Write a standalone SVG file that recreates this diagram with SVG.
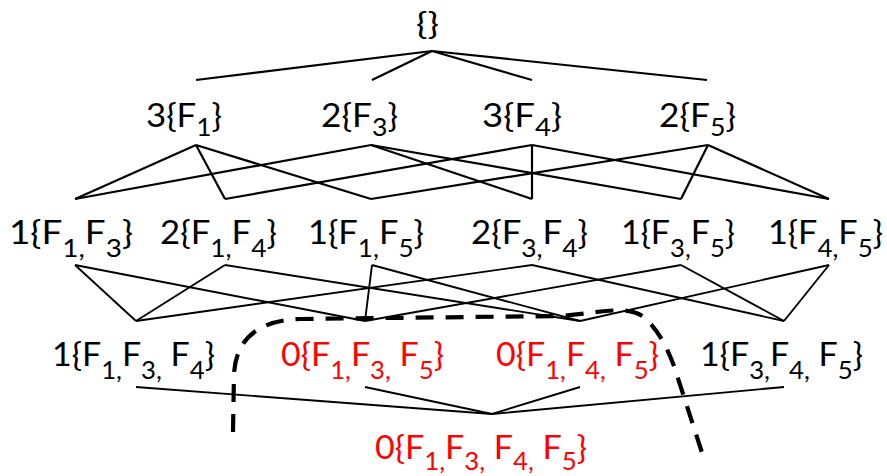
<svg xmlns="http://www.w3.org/2000/svg" width="887" height="476" viewBox="0 0 887 476">
<style>
text{font-family:Lato,"Liberation Sans",sans-serif;font-size:33px;fill:#000}
.r{fill:#ff0000}
.s{font-size:25px}
.c line{stroke:#000;stroke-width:2.2}
.c2 line{stroke:#000;stroke-width:1.9}
.dash{fill:none;stroke:#000;stroke-width:4.2;stroke-dasharray:18 12}
</style>
<rect width="887" height="476" fill="#fff"/>
<g id="connectors">
<g class="c">
<line x1="432" y1="51" x2="196" y2="80"/>
<line x1="432" y1="51" x2="372" y2="80"/>
<line x1="432" y1="51" x2="532" y2="80"/>
<line x1="432" y1="51" x2="707" y2="80"/>
<line x1="196" y1="145" x2="75" y2="199"/>
<line x1="196" y1="145" x2="225" y2="199"/>
<line x1="196" y1="145" x2="371" y2="199"/>
<line x1="371" y1="145" x2="75" y2="199"/>
<line x1="371" y1="145" x2="532" y2="199"/>
<line x1="371" y1="145" x2="681" y2="199"/>
<line x1="532" y1="145" x2="225" y2="199"/>
<line x1="532" y1="145" x2="532" y2="199"/>
<line x1="532" y1="145" x2="829" y2="199"/>
<line x1="708" y1="145" x2="371" y2="199"/>
<line x1="708" y1="145" x2="681" y2="199"/>
<line x1="708" y1="145" x2="829" y2="199"/>
</g>
<g class="c2">
<line x1="75" y1="265" x2="136" y2="321"/>
<line x1="75" y1="265" x2="365" y2="321"/>
<line x1="225" y1="265" x2="136" y2="321"/>
<line x1="225" y1="265" x2="580" y2="321"/>
<line x1="372" y1="265" x2="365" y2="321"/>
<line x1="372" y1="265" x2="580" y2="321"/>
<line x1="532" y1="265" x2="136" y2="321"/>
<line x1="532" y1="265" x2="784" y2="321"/>
<line x1="681" y1="265" x2="365" y2="321"/>
<line x1="681" y1="265" x2="784" y2="321"/>
<line x1="829" y1="265" x2="580" y2="321"/>
<line x1="829" y1="265" x2="784" y2="321"/>
<line x1="136" y1="387" x2="492" y2="414"/>
<line x1="365" y1="387" x2="492" y2="414"/>
<line x1="580" y1="387" x2="492" y2="414"/>
<line x1="784" y1="387" x2="492" y2="414"/>
</g>
</g>
<path id="boundary" class="dash" d="M233,432 L234,374 C236,336 262,320 300,319 L560,316 C600,313 628,304 645,318 C660,332 668,350 674,366 L705,462"/>
<g id="n-empty"><text x="416" y="35" textLength="23" lengthAdjust="spacingAndGlyphs" style="font-size:31px">{}</text></g>
<g id="n-F1"><text x="146" y="127" textLength="76" lengthAdjust="spacingAndGlyphs">3{F<tspan class="s" dy="8.5">1</tspan><tspan dy="-8.5">}</tspan></text></g>
<g id="n-F3"><text x="321" y="127" textLength="77" lengthAdjust="spacingAndGlyphs">2{F<tspan class="s" dy="8.5">3</tspan><tspan dy="-8.5">}</tspan></text></g>
<g id="n-F4"><text x="482" y="127" textLength="80" lengthAdjust="spacingAndGlyphs">3{F<tspan class="s" dy="8.5">4</tspan><tspan dy="-8.5">}</tspan></text></g>
<g id="n-F5"><text x="659" y="127" textLength="77" lengthAdjust="spacingAndGlyphs">2{F<tspan class="s" dy="8.5">5</tspan><tspan dy="-8.5">}</tspan></text></g>
<g id="n-F1F3"><text x="9" y="244" textLength="124" lengthAdjust="spacingAndGlyphs">1{F<tspan class="s" dy="12.5">1,</tspan><tspan dy="-12.5">F</tspan><tspan class="s" dy="12.5">3</tspan><tspan dy="-12.5">}</tspan></text></g>
<g id="n-F1F4"><text x="160" y="244" textLength="117" lengthAdjust="spacingAndGlyphs">2{F<tspan class="s" dy="12.5">1,</tspan><tspan dy="-12.5">F</tspan><tspan class="s" dy="12.5">4</tspan><tspan dy="-12.5">}</tspan></text></g>
<g id="n-F1F5"><text x="308" y="244" textLength="116" lengthAdjust="spacingAndGlyphs">1{F<tspan class="s" dy="12.5">1,</tspan><tspan dy="-12.5">F</tspan><tspan class="s" dy="12.5">5</tspan><tspan dy="-12.5">}</tspan></text></g>
<g id="n-F3F4"><text x="471" y="244" textLength="117" lengthAdjust="spacingAndGlyphs">2{F<tspan class="s" dy="12.5">3,</tspan><tspan dy="-12.5">F</tspan><tspan class="s" dy="12.5">4</tspan><tspan dy="-12.5">}</tspan></text></g>
<g id="n-F3F5"><text x="621" y="244" textLength="114" lengthAdjust="spacingAndGlyphs">1{F<tspan class="s" dy="12.5">3,</tspan><tspan dy="-12.5">F</tspan><tspan class="s" dy="12.5">5</tspan><tspan dy="-12.5">}</tspan></text></g>
<g id="n-F4F5"><text x="768" y="244" textLength="115" lengthAdjust="spacingAndGlyphs">1{F<tspan class="s" dy="12.5">4,</tspan><tspan dy="-12.5">F</tspan><tspan class="s" dy="12.5">5</tspan><tspan dy="-12.5">}</tspan></text></g>
<g id="n-F1F3F4"><text x="52" y="366" textLength="163" lengthAdjust="spacingAndGlyphs">1{F<tspan class="s" dy="12.5">1,</tspan><tspan dy="-12.5">F</tspan><tspan class="s" dy="12.5">3,</tspan><tspan dy="-12.5"> F</tspan><tspan class="s" dy="12.5">4</tspan><tspan dy="-12.5">}</tspan></text></g>
<g id="n-F1F3F5"><text class="r" x="281" y="366" textLength="163" lengthAdjust="spacingAndGlyphs">0{F<tspan class="s" dy="12.5">1,</tspan><tspan dy="-12.5">F</tspan><tspan class="s" dy="12.5">3,</tspan><tspan dy="-12.5"> F</tspan><tspan class="s" dy="12.5">5</tspan><tspan dy="-12.5">}</tspan></text></g>
<g id="n-F1F4F5"><text class="r" x="496" y="366" textLength="163" lengthAdjust="spacingAndGlyphs">0{F<tspan class="s" dy="12.5">1,</tspan><tspan dy="-12.5">F</tspan><tspan class="s" dy="12.5">4,</tspan><tspan dy="-12.5"> F</tspan><tspan class="s" dy="12.5">5</tspan><tspan dy="-12.5">}</tspan></text></g>
<g id="n-F3F4F5"><text x="700" y="366" textLength="163" lengthAdjust="spacingAndGlyphs">1{F<tspan class="s" dy="12.5">3,</tspan><tspan dy="-12.5">F</tspan><tspan class="s" dy="12.5">4,</tspan><tspan dy="-12.5"> F</tspan><tspan class="s" dy="12.5">5</tspan><tspan dy="-12.5">}</tspan></text></g>
<g id="n-F1F3F4F5"><text class="r" x="375" y="459" textLength="212" lengthAdjust="spacingAndGlyphs">0{F<tspan class="s" dy="11">1,</tspan><tspan dy="-11">F</tspan><tspan class="s" dy="11">3,</tspan><tspan dy="-11"> F</tspan><tspan class="s" dy="11">4,</tspan><tspan dy="-11"> F</tspan><tspan class="s" dy="11">5</tspan><tspan dy="-11">}</tspan></text></g>
</svg>
